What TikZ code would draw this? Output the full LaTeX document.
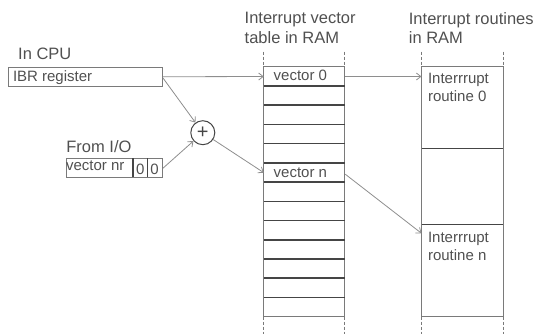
\documentclass[tikz,border=0pt]{standalone}
\usepackage{fontspec}
\setmainfont{Liberation Sans}
\usetikzlibrary{arrows.meta}
\definecolor{txt}{HTML}{505050}
\definecolor{edge}{HTML}{7A7A7A}
\definecolor{sep}{HTML}{454545}
\definecolor{conn}{HTML}{8E8E8E}
\begin{document}
\begin{tikzpicture}[x=1pt,y=-1pt,
  title/.style={font=\fontsize{16.5}{19.3}\selectfont, text=txt, align=left, inner sep=0pt},
  cell/.style={font=\fontsize{15}{18.4}\selectfont, text=txt, inner sep=0pt},
  frame/.style={draw=edge, line width=1.1pt},
  divider/.style={draw=sep, line width=1.5pt},
  guide/.style={draw=edge, line width=1.1pt, dash pattern=on 3pt off 2pt},
  area/.style={inner sep=0pt, anchor=north west},
  link/.style={draw=conn, line width=0.8pt, -{Straight Barb[length=4.5pt,width=7pt]}},
]
\path[use as bounding box] (0,0) rectangle (540,334);

% column headings
\node[title, anchor=north west] (thead) at (244.5,12.2) {Interrupt vector\\table in RAM};
\node[title, anchor=north west] (rhead) at (408.7,12.2) {Interrupt routines\\in RAM};

% IBR register in the CPU
\node[title, anchor=base west] (cpu) at (18,59.3) {In CPU};
\node[area, frame, minimum width=154.1pt, minimum height=19pt] (ibr) at (7.6,66.7) {};
\node[cell, anchor=base west] (ibrtext) at (12.8,81.7) {IBR register};

% vector number delivered by the I/O device
\node[title, anchor=base west] (io) at (66.2,152.3) {From I/O};
\node[area, frame, minimum width=96.2pt, minimum height=19pt] (vnr) at (65.5,158.3) {};
\draw[divider] (132.8,158.3) -- (132.8,177.3);
\draw[divider] (147.6,158.3) -- (147.6,177.3);
\node[cell, anchor=base west] (vnrtext) at (65.8,170) {vector nr};
\node[cell, anchor=base] (bit1) at (140.2,174) {0};
\node[cell, anchor=base] (bit0) at (154.6,174) {0};

% adder
\node[circle, draw=sep, line width=1pt, minimum size=24pt, inner sep=0pt,
      font=\fontsize{20}{20}\selectfont, text=sep] (plus) at (202.8,132.7) {+};

% interrupt vector table
\draw[frame] (263.8,66.7) rectangle (344.8,316.7);
\foreach \k in {1,...,12}
  \draw[divider] (263.8,{66.7+19.23*\k}) -- (344.8,{66.7+19.23*\k});
\node[area, minimum width=81pt, minimum height=19.23pt] (v0) at (263.8,66.7) {};
\node[area, minimum width=81pt, minimum height=19.23pt] (vn) at (263.8,162.85) {};
\node[cell, anchor=base west] (v0text) at (273.5,81) {vector 0};
\node[cell, anchor=base west] (vntext) at (273.5,177.7) {vector n};

% interrupt routines
\draw[frame] (421.5,66.7) rectangle (503.3,316.7);
\draw[divider] (421.5,148.7) -- (503.3,148.7);
\draw[divider] (421.5,224.7) -- (503.3,224.7);
\node[area, minimum width=81.8pt, minimum height=82pt] (r0) at (421.5,66.7) {};
\node[area, minimum width=81.8pt, minimum height=92pt] (rn) at (421.5,224.7) {};
\node[cell, align=left, anchor=north west] (r0text) at (427.8,72.6) {Interrrupt\\routine 0};
\node[cell, align=left, anchor=north west] (rntext) at (427.8,232) {Interrrupt\\routine n};

% memory continues above and below
\foreach \x in {263.8,344.8,421.5,503.3} {
  \draw[guide] (\x,51.7) -- (\x,66.7);
  \draw[guide] (\x,316.7) -- (\x,334);
}

% connectors
\draw[link] (ibr.east) -- (v0.west);
\draw[link] ([yshift=-1pt]ibr.east) -- (plus);
\draw[link] (vnr.east) -- (plus);
\draw[link] (plus) -- (vn.west);
\draw[link] (v0.east) -- (v0.east -| r0.west);
\draw[link] ([yshift=-1.5pt]vn.east) -- ([yshift=-8.6pt]rn.north west);
\end{tikzpicture}
\end{document}
